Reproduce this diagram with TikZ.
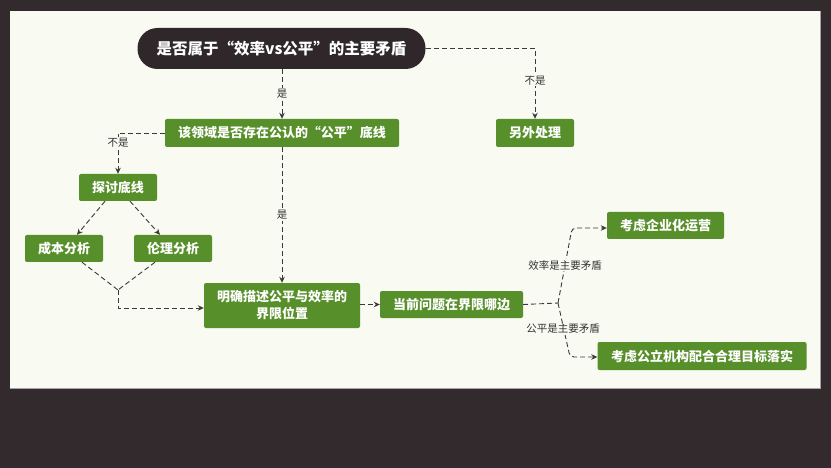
\documentclass[tikz,border=0pt]{standalone}
\usepackage{fontspec}
\setmainfont{Noto Sans CJK SC}
\usetikzlibrary{arrows.meta,calc}
\definecolor{bgdark}{HTML}{332A2E}
\definecolor{panel}{HTML}{F9FAF1}
\definecolor{boxgreen}{HTML}{578F2A}
\definecolor{pillc}{HTML}{2F2729}
\definecolor{linec}{HTML}{3A3A3A}
\begin{document}
\begin{tikzpicture}[x=1pt,y=-1pt,
  gbox/.style={fill=boxgreen, rounded corners=2pt, text=white, font=\bfseries\fontsize{13}{17}\selectfont, inner sep=0pt, minimum height=27pt, align=center},
  conn/.style={draw=linec, line width=0.9pt, dash pattern=on 5pt off 3pt, -{Stealth[length=6pt,width=5.5pt]}},
  plainln/.style={draw=linec, line width=0.9pt, dash pattern=on 5pt off 3pt},
  lab/.style={fill=panel, text=black!80, font=\fontsize{10.5}{12}\selectfont, inner sep=1pt}]
\useasboundingbox (0,0) rectangle (831,468);
\fill[bgdark] (0,0) rectangle (831,468);
\fill[panel] (10,11) rectangle (820,388);
\draw[gray!70, line width=0.8pt] (10,388) -- (820,388) -- (820,11);

\node[fill=pillc, rounded corners=20pt, text=white, font=\bfseries\fontsize{15.5}{18}\selectfont, minimum width=288pt, minimum height=41pt, inner sep=0pt] (pill) at (281.5,48.5) {是否属于“效率vs公平”的主要矛盾};
\node[gbox, minimum width=234pt, minimum height=28pt] (q1) at (282,133) {该领域是否存在公认的“公平”底线};
\node[gbox, minimum width=78pt, minimum height=28pt] (other) at (535,133) {另外处理};
\node[gbox, minimum width=78pt] (tao) at (118,187.5) {探讨底线};
\node[gbox, minimum width=78pt] (cost) at (64,248.5) {成本分析};
\node[gbox, minimum width=78pt] (ethic) at (173,248.5) {伦理分析};
\node[gbox, minimum width=156pt, minimum height=45pt] (clear) at (282,305.5) {明确描述公平与效率的\\界限位置};
\node[gbox, minimum width=143pt] (cur) at (451.5,304.5) {当前问题在界限哪边};
\node[gbox, minimum width=117pt] (ent) at (665.5,225.5) {考虑企业化运营};
\node[gbox, minimum width=209pt, minimum height=28pt] (pub) at (702,356) {考虑公立机构配合合理目标落实};

\draw[conn] (pill.east) -| node[lab, pos=0.73] {不是} (other.north);
\draw[conn] (q1.north |- pill.south) -- node[lab] {是} (q1.north);
\draw[conn] (q1.west) -| node[lab, pos=0.62] {不是} (tao.north);
\draw[conn] (q1.south) -- node[lab] {是} (clear.north);

\draw[conn] ($(tao.south)+(-13,0)$) -- ($(cost.north)+(13,0)$);
\draw[conn] ($(tao.south)+(12,0)$) -- ($(ethic.north)+(-13,0)$);

\coordinate (j) at (118,290);
\draw[plainln] ($(cost.south)+(18,0)$) -- (j);
\draw[plainln] ($(ethic.south)+(-18,0)$) -- (j);
\draw[conn] (j) |- ($(clear.west)+(0,2.5)$);

\draw[conn] (clear.east |- cur.west) -- (cur.west);

\coordinate (split) at (558,303);
\coordinate (b1) at (572,228);
\coordinate (b2) at (570,357);
\draw[plainln] (cur.east) -- (split);
\draw[conn, rounded corners=4pt] (split) -- (b1) -- (b1 -| ent.west);
\draw[conn, rounded corners=4pt] (split) -- (b2) -- (b2 -| pub.west);
\node[lab] (l1) at (565,265) {效率是主要矛盾};
\node[lab] (l2) at (563,329) {公平是主要矛盾};
\end{tikzpicture}
\end{document}
